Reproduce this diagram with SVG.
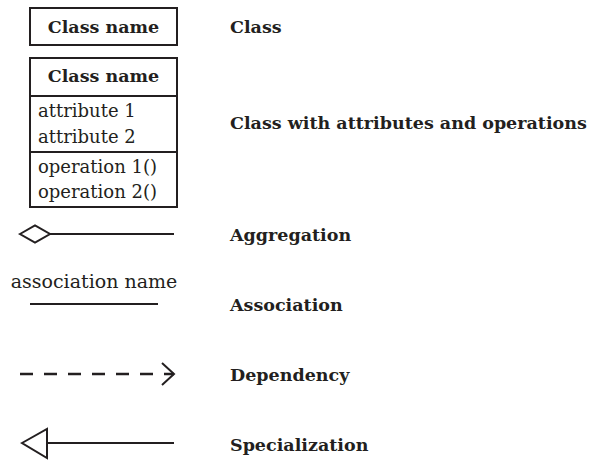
<svg xmlns="http://www.w3.org/2000/svg" width="590" height="461" viewBox="0 0 590 461">
<defs>
<style>
.box{fill:#fff;stroke:#231f20;stroke-width:2}
.ln{fill:none;stroke:#231f20;stroke-width:2}
.b{font-family:"DejaVu Serif","Liberation Serif",serif;font-weight:bold;font-size:17.5px;fill:#231f20}
.r{font-family:"DejaVu Serif","Liberation Serif",serif;font-size:18px;fill:#231f20}
.lab{font-family:"DejaVu Serif","Liberation Serif",serif;font-weight:bold;font-size:17.5px;fill:#231f20}
</style>
</defs>
<rect width="590" height="461" fill="#fff"/>
<g id="class">
<rect class="box" x="30" y="8" width="147" height="37"/>
<text class="b" x="103.5" y="33" text-anchor="middle">Class name</text>
</g>
<g id="class-full">
<rect class="box" x="30" y="58" width="147" height="149"/>
<line class="ln" x1="30" y1="96" x2="177" y2="96"/>
<line class="ln" x1="30" y1="152" x2="177" y2="152"/>
<text class="b" x="103.5" y="82" text-anchor="middle">Class name</text>
<text class="r" x="38" y="117">attribute 1</text>
<text class="r" x="38" y="143">attribute 2</text>
<text class="r" x="38" y="173">operation 1()</text>
<text class="r" x="38" y="198">operation 2()</text>
</g>
<g id="connectors">
<g id="aggregation">
<polygon class="ln" points="20,234 35,225.5 50,234 35,242.5"/>
<line class="ln" x1="50" y1="234" x2="174" y2="234"/>
</g>
<g id="association">
<text class="r" x="94" y="288" text-anchor="middle" style="font-size:19px">association name</text>
<line class="ln" x1="30" y1="304" x2="158" y2="304"/>
</g>
<g id="dependency">
<line class="ln" x1="20" y1="374" x2="174" y2="374" stroke-dasharray="13 11" style="stroke-width:2.3"/>
<polyline class="ln" points="162,363 174,374 162,385"/>
</g>
<g id="specialization">
<polygon class="ln" points="22,443 47,429 47,458"/>
<line class="ln" x1="47" y1="443" x2="174" y2="443"/>
</g>
</g>
<g id="labels">
<text class="lab" x="230" y="33">Class</text>
<text class="lab" x="230" y="129">Class with attributes and operations</text>
<text class="lab" x="230" y="241">Aggregation</text>
<text class="lab" x="230" y="311">Association</text>
<text class="lab" x="230" y="381">Dependency</text>
<text class="lab" x="230" y="451">Specialization</text>
</g>
</svg>
